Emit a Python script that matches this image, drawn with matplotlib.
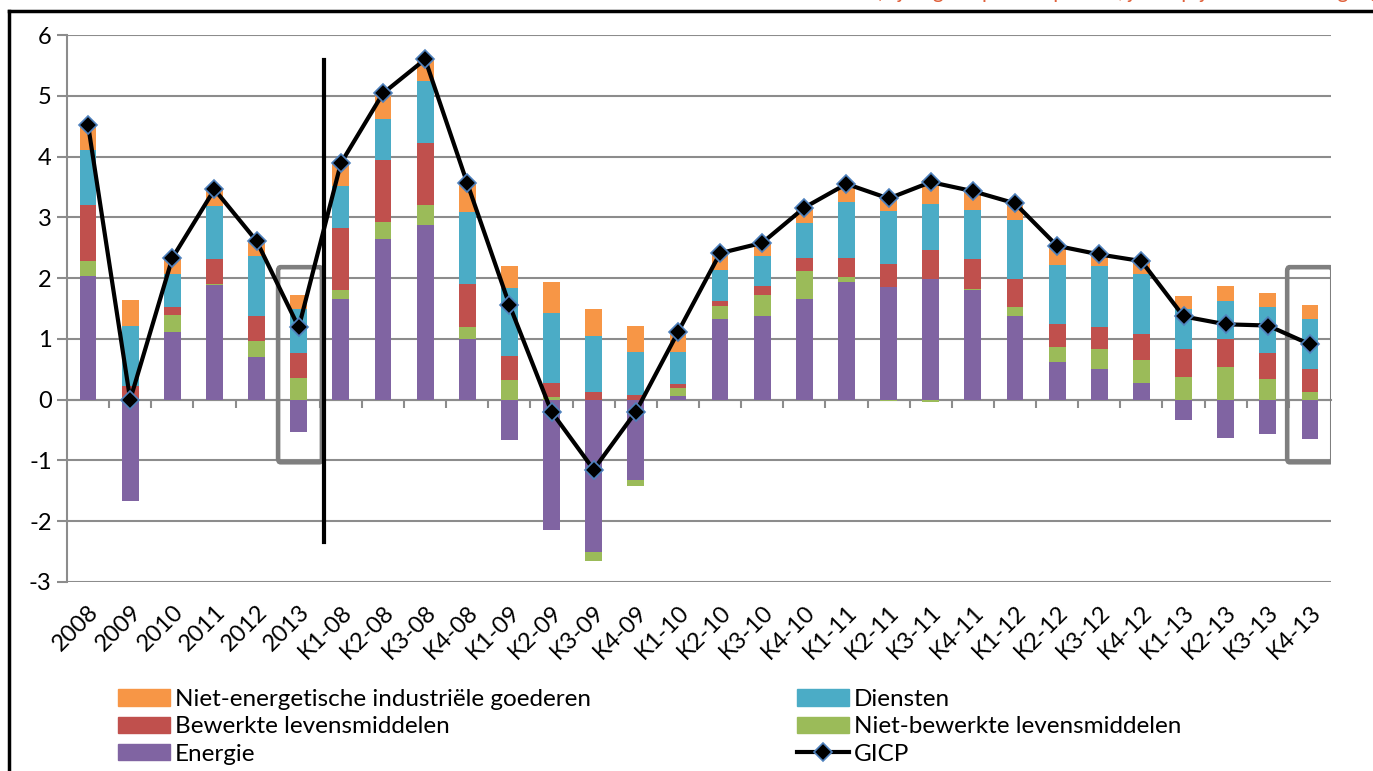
import matplotlib
matplotlib.use("Agg")
import matplotlib.pyplot as plt
import numpy as np
from matplotlib.lines import Line2D
from matplotlib.patches import Patch, FancyBboxPatch

plt.rcParams["font.family"] = ["Lato", "DejaVu Sans"]
plt.rcParams["axes.unicode_minus"] = False

# categories (annual then quarterly)
categories = ["2008", "2009", "2010", "2011", "2012", "2013",
              "K1-08", "K2-08", "K3-08", "K4-08",
              "K1-09", "K2-09", "K3-09", "K4-09",
              "K1-10", "K2-10", "K3-10", "K4-10",
              "K1-11", "K2-11", "K3-11", "K4-11",
              "K1-12", "K2-12", "K3-12", "K4-12",
              "K1-13", "K2-13", "K3-13", "K4-13"]

# contributions (percentage points)
energie = [2.04, -1.66, 1.12, 1.89, 0.71, -0.54,
           1.65, 2.65, 2.88, 1.00,
           -0.66, -2.15, -2.50, -1.32,
           0.06, 1.33, 1.38, 1.66,
           1.93, 1.85, 1.99, 1.80,
           1.37, 0.62, 0.51, 0.28,
           -0.33, -0.63, -0.56, -0.64]
niet_bewerkt = [0.24, 0.00, 0.28, 0.02, 0.26, 0.35,
                0.15, 0.27, 0.33, 0.20,
                0.32, 0.05, -0.15, -0.10,
                0.14, 0.21, 0.34, 0.46,
                0.09, -0.02, -0.04, 0.02,
                0.15, 0.24, 0.32, 0.38,
                0.37, 0.54, 0.34, 0.13]
bewerkt = [0.93, 0.23, 0.13, 0.41, 0.41, 0.41,
           1.02, 1.03, 1.02, 0.71,
           0.40, 0.23, 0.12, 0.07,
           0.05, 0.09, 0.15, 0.21,
           0.31, 0.39, 0.47, 0.49,
           0.47, 0.39, 0.36, 0.42,
           0.46, 0.45, 0.42, 0.37]
diensten = [0.90, 0.98, 0.53, 0.86, 0.98, 0.73,
            0.69, 0.66, 1.01, 1.18,
            1.11, 1.15, 0.92, 0.71,
            0.53, 0.51, 0.49, 0.57,
            0.93, 0.87, 0.76, 0.81,
            0.97, 0.97, 1.01, 0.98,
            0.67, 0.64, 0.77, 0.83]
neig = [0.41, 0.43, 0.27, 0.28, 0.25, 0.24,
        0.38, 0.43, 0.36, 0.47,
        0.37, 0.50, 0.45, 0.43,
        0.33, 0.27, 0.22, 0.26,
        0.29, 0.20, 0.39, 0.32,
        0.27, 0.31, 0.19, 0.22,
        0.21, 0.24, 0.23, 0.23]
gicp = [4.52, 0.00, 2.33, 3.46, 2.61, 1.19,
        3.89, 5.04, 5.60, 3.56,
        1.56, -0.20, -1.15, -0.20,
        1.11, 2.41, 2.58, 3.16,
        3.55, 3.31, 3.58, 3.43,
        3.23, 2.53, 2.39, 2.28,
        1.37, 1.24, 1.22, 0.91]

series = [
    ("Energie", energie, "#8064A2"),
    ("Niet-bewerkte levensmiddelen", niet_bewerkt, "#9BBB59"),
    ("Bewerkte levensmiddelen", bewerkt, "#C0504D"),
    ("Diensten", diensten, "#4BACC6"),
    ("Niet-energetische industriële goederen", neig, "#F79646"),
]

W, H = 1373, 771
fig = plt.figure(figsize=(W / 100, H / 100), dpi=100)
ax = fig.add_axes([67 / W, 1 - 582 / H, 1264 / W, 547 / H])

x = np.arange(len(categories))
pos_base = np.zeros(len(x))
neg_base = np.zeros(len(x))
for name, vals, col in series:
    v = np.array(vals)
    base = np.where(v >= 0, pos_base, neg_base)
    ax.bar(x, v, 0.4, bottom=base, color=col, zorder=2)
    pos_base = pos_base + np.where(v >= 0, v, 0)
    neg_base = neg_base + np.where(v < 0, v, 0)

ax.plot(x, gicp, color="black", lw=3, marker="D", ms=9,
        mfc="black", mec="#4F81BD", mew=1.2, zorder=4)

# separator between annual and quarterly data
ax.plot([5.6, 5.6], [5.59, -2.35], color="black", lw=3, zorder=4)

# highlight boxes
for x0, x1 in [(4.51, 5.55), (28.46, 29.53)]:
    ax.add_patch(FancyBboxPatch((x0, -1.03), x1 - x0, 3.21,
                                boxstyle="round,pad=0,rounding_size=0.06",
                                fill=False, ec="#7F7F7F", lw=3.3, zorder=3))

ax.set_xlim(-0.5, len(x) - 0.5)
ax.set_ylim(-3, 6)
ax.set_yticks(range(-3, 7))
ax.grid(axis="y", color="#8C8C8C", lw=1.5, zorder=0)
ax.tick_params(axis="y", length=7, width=1.5, color="#8C8C8C",
               labelsize=17, pad=4)
for s in ["top", "right", "bottom"]:
    ax.spines[s].set_visible(False)
ax.spines["left"].set_color("#8C8C8C")
ax.spines["left"].set_linewidth(1.5)

ax.set_xticks(x)
ax.set_xticklabels(categories, rotation=45, ha="right", va="top",
                   rotation_mode="anchor", fontsize=17)
ax.tick_params(axis="x", length=0, pad=14)

# category axis at zero with boundary tick marks
sec = ax.secondary_xaxis(1 / 3)
sec.set_xticks(np.arange(0.5, len(x) - 1, 1.0))
sec.set_xticklabels([])
sec.tick_params(length=6, width=1.5, color="#8C8C8C", direction="out")
sec.spines["bottom"].set_color("#8C8C8C")
sec.spines["bottom"].set_linewidth(1.5)

# legend, two columns
h = {name: Patch(color=col) for name, vals, col in series}
line_h = Line2D([], [], color="black", lw=3, marker="D", ms=9,
                mfc="black", mec="#4F81BD", mew=1.2)
kw = dict(loc="upper left", frameon=False, fontsize=17.5, borderpad=0,
          borderaxespad=0, handlelength=2.15, handleheight=0.65,
          handletextpad=0.2, labelspacing=0.26)
fig.legend([h["Niet-energetische industriële goederen"],
            h["Bewerkte levensmiddelen"], h["Energie"]],
           ["Niet-energetische industriële goederen",
            "Bewerkte levensmiddelen", "Energie"],
           bbox_to_anchor=(118 / W, 1 - 689 / H), **kw)
fig.legend([h["Diensten"], h["Niet-bewerkte levensmiddelen"], line_h],
           ["Diensten", "Niet-bewerkte levensmiddelen", "GICP"],
           bbox_to_anchor=(797 / W, 1 - 689 / H), **kw)

# frame of the figure box
fig.add_artist(Line2D([9 / W, 1.0], [1 - 11 / H, 1 - 11 / H],
                      color="black", lw=2.5))
fig.add_artist(Line2D([9 / W, 9 / W], [0, 1 - 11 / H],
                      color="black", lw=2.5))

# caption above, cut off by the page edge
fig.text(1.003, 1 + 2.5 / H, "(bijdrage in procentpunten, jaar-op-jaar veranderingen)",
         color="#E0603A", fontsize=15, ha="right", va="baseline")

fig.savefig("out.png", dpi=100)
